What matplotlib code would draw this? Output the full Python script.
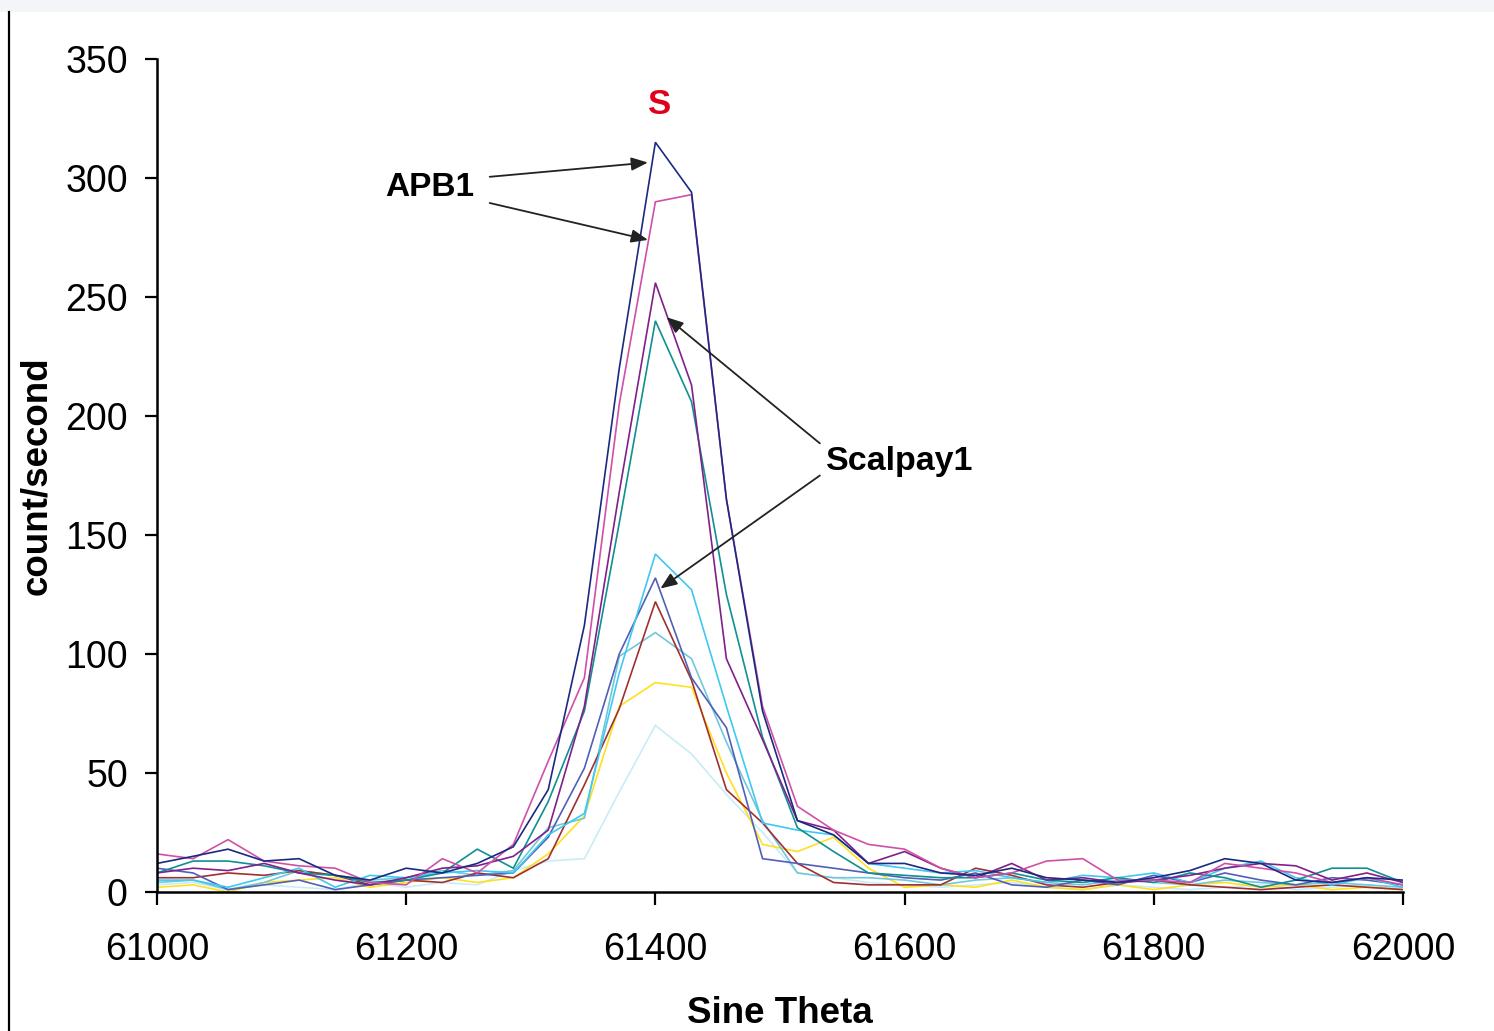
import matplotlib
matplotlib.use("Agg")
import matplotlib.pyplot as plt
from matplotlib.lines import Line2D
from matplotlib.patches import Rectangle

plt.rcParams['font.family'] = ['Liberation Sans', 'DejaVu Sans']

sine_theta = [61000, 61029, 61057, 61086, 61114, 61143, 61171, 61200, 61229, 61257,
              61286, 61314, 61343, 61371, 61400, 61429, 61457, 61486, 61514, 61543,
              61571, 61600, 61629, 61657, 61686, 61714, 61743, 61771, 61800, 61829,
              61857, 61886, 61914, 61943, 61971, 62000]

navy = [12, 15, 18, 13, 14, 7, 5, 10, 8, 12, 19, 43, 112, 220, 315, 294, 165, 76, 30, 24,
        12, 12, 8, 7, 10, 6, 5, 4, 6, 9, 14, 12, 5, 4, 6, 5]
pink = [16, 14, 22, 13, 11, 10, 4, 3, 14, 8, 20, 55, 90, 205, 290, 293, 165, 78, 36, 26,
        20, 18, 10, 6, 8, 13, 14, 5, 5, 4, 12, 10, 8, 4, 6, 3]
purple = [8, 10, 9, 12, 8, 5, 3, 6, 10, 11, 15, 26, 78, 168, 256, 213, 98, 64, 30, 26,
          12, 17, 10, 6, 12, 5, 6, 4, 5, 7, 10, 12, 11, 5, 8, 4]
teal = [8, 13, 13, 11, 8, 7, 4, 5, 8, 18, 10, 38, 76, 155, 240, 206, 125, 65, 27, 17,
        8, 7, 6, 6, 8, 5, 4, 6, 4, 8, 6, 2, 5, 10, 10, 4]
sky = [5, 5, 2, 6, 10, 2, 7, 6, 8, 9, 8, 24, 33, 92, 142, 127, 78, 29, 26, 24,
       12, 10, 8, 9, 6, 4, 7, 6, 8, 4, 10, 13, 6, 3, 6, 2]
slate = [10, 8, 1, 3, 5, 1, 3, 5, 6, 7, 8, 23, 52, 100, 132, 90, 69, 14, 12, 10,
         8, 6, 5, 8, 3, 2, 5, 3, 7, 4, 8, 5, 3, 6, 5, 3]
darkred = [6, 6, 8, 7, 9, 7, 3, 5, 4, 8, 6, 14, 45, 77, 122, 89, 43, 29, 12, 4,
           3, 3, 3, 10, 7, 3, 2, 4, 5, 3, 2, 1, 2, 3, 2, 1]
lightcyan = [4, 5, 1, 4, 9, 7, 5, 6, 9, 7, 9, 27, 31, 99, 109, 98, 63, 30, 8, 6,
             6, 5, 3, 5, 6, 4, 3, 5, 4, 3, 5, 4, 3, 4, 3, 2]
yellow = [2, 3, 0, 4, 5, 6, 2, 4, 6, 4, 6, 16, 32, 78, 88, 86, 50, 20, 17, 23,
          10, 2, 3, 2, 5, 2, 1, 3, 1, 3, 4, 2, 3, 1, 2, 1]
lightblue = [3, 4, 1, 3, 2, 1, 4, 2, 4, 3, 9, 13, 14, 42, 70, 58, 41, 25, 8, 6,
             4, 3, 2, 3, 4, 2, 1, 3, 2, 1, 2, 3, 1, 2, 3, 1]

series = [
    (lightblue, "#c8ecf8"),
    (yellow, "#ffe020"),
    (lightcyan, "#70c8d8"),
    (darkred, "#a03030"),
    (slate, "#5060b8"),
    (sky, "#40c8f0"),
    (teal, "#109090"),
    (purple, "#80208a"),
    (pink, "#d050a8"),
    (navy, "#1a2a80"),
]

x_ticks = [61000, 61200, 61400, 61600, 61800, 62000]
y_ticks = [0, 50, 100, 150, 200, 250, 300, 350]

W, H = 1494, 1031
fig = plt.figure(figsize=(W / 100, H / 100), dpi=100)
ax = fig.add_axes([157 / W, 1 - 892 / H, (1403 - 157) / W, (892 - 59) / H])

for vals, col in series:
    ax.plot(sine_theta, vals, color=col, lw=1.2, solid_joinstyle='miter')

ax.set_xlim(61000, 62000)
ax.set_ylim(0, 350)
ax.set_xticks(x_ticks)
ax.set_yticks(y_ticks)
ax.set_xticklabels([str(v) for v in x_ticks])
ax.set_yticklabels([str(v) for v in y_ticks])
ax.tick_params(axis='both', direction='out', length=9, width=1.6, labelsize=27,
               colors='black')
ax.tick_params(axis='x', pad=20)
ax.tick_params(axis='y', pad=12)
for s in ['top', 'right']:
    ax.spines[s].set_visible(False)
for s in ['left', 'bottom']:
    ax.spines[s].set_linewidth(1.8)

ax.set_xlabel("Sine Theta", fontsize=26.5, fontweight='bold', labelpad=20)
ax.set_ylabel("count/second", fontsize=26.5, fontweight='bold', labelpad=8)

ax.text(61403, 331, "S", color="#e0001a", fontsize=25, fontweight='bold',
        ha='center', va='center')

arrowprops = dict(arrowstyle='-|>,head_length=1.0,head_width=0.4', color='#222222',
                  lw=1.3, shrinkA=0, shrinkB=0)
ax.text(61219, 296, "APB1", fontsize=24, fontweight='bold', ha='center', va='center')
ax.annotate("", xy=(61394, 306.5), xytext=(61267, 300.5), arrowprops=arrowprops)
ax.annotate("", xy=(61394, 274), xytext=(61267, 289.5), arrowprops=arrowprops)

ax.text(61596, 181, "Scalpay1", fontsize=24.5, fontweight='bold', ha='center', va='center')
ax.annotate("", xy=(61409, 241.5), xytext=(61532, 188.5), arrowprops=arrowprops)
ax.annotate("", xy=(61404, 127.5), xytext=(61532, 175), arrowprops=arrowprops)

# page decorations
fig.add_artist(Rectangle((0, 1 - 12 / H), 1, 12 / H, transform=fig.transFigure,
                         facecolor="#f3f5f8", edgecolor='none'))
fig.add_artist(Line2D([9 / W, 9 / W], [0, 1 - 12 / H], transform=fig.transFigure,
                      color='black', lw=1.6))

fig.savefig("out.png", dpi=100)
